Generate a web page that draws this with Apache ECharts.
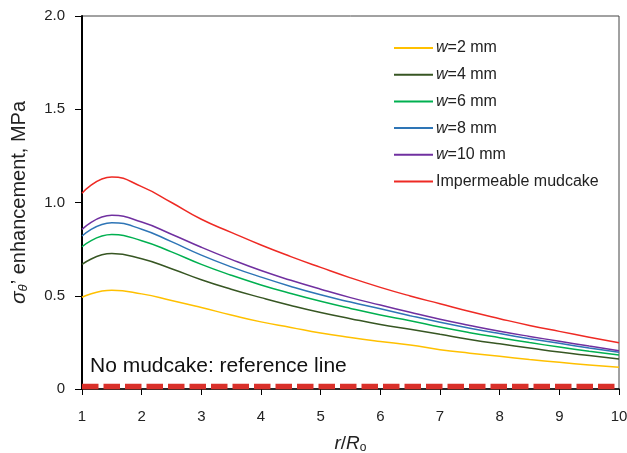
<!DOCTYPE html>
<html><head><meta charset="utf-8">
<script src="https://cdn.jsdelivr.net/npm/echarts@6/dist/echarts.min.js"></script>
<style>html,body{margin:0;padding:0;background:#fff}#c{width:627px;height:453px}</style>
</head><body><div id="c"></div>
<script>
var xs  = [1, 1.5, 2, 2.5, 3, 3.5, 4, 4.5, 5, 5.5, 6, 6.5, 7, 7.5, 8, 8.5, 9, 9.5, 10];
var seriesNames = ['w=2 mm', 'w=4 mm', 'w=6 mm', 'w=8 mm', 'w=10 mm', 'Impermeable mudcake'];
var colors = ['#FFC000', '#375623', '#00B050', '#2E75B6', '#7030A0', '#EE2A24'];
var w2  = [0.492, 0.529, 0.510, 0.475, 0.437, 0.397, 0.360, 0.330, 0.300, 0.276, 0.255, 0.236, 0.211, 0.192, 0.175, 0.158, 0.143, 0.129, 0.116];
var w4  = [0.668, 0.726, 0.698, 0.645, 0.586, 0.535, 0.490, 0.448, 0.410, 0.377, 0.346, 0.320, 0.293, 0.266, 0.242, 0.220, 0.198, 0.179, 0.161];
var w6  = [0.763, 0.828, 0.795, 0.735, 0.668, 0.610, 0.558, 0.512, 0.470, 0.432, 0.397, 0.366, 0.332, 0.302, 0.275, 0.249, 0.225, 0.203, 0.182];
var w8  = [0.820, 0.892, 0.857, 0.790, 0.718, 0.655, 0.600, 0.550, 0.505, 0.466, 0.430, 0.393, 0.358, 0.326, 0.297, 0.270, 0.245, 0.220, 0.197];
var w10 = [0.856, 0.931, 0.895, 0.830, 0.760, 0.695, 0.635, 0.583, 0.535, 0.490, 0.450, 0.411, 0.374, 0.341, 0.310, 0.282, 0.256, 0.230, 0.205];
var imp = [1.050, 1.137, 1.085, 1.000, 0.910, 0.840, 0.772, 0.710, 0.652, 0.596, 0.545, 0.499, 0.457, 0.415, 0.377, 0.341, 0.309, 0.278, 0.248];
var refX = [1, 10];
var refY = [0.013, 0.013];
var xTicks = [1, 2, 3, 4, 5, 6, 7, 8, 9, 10];
var yTicks = ['0', '0.5', '1.0', '1.5', '2.0'];
var allValues = [w2, w4, w6, w8, w10, imp];

var FONT = 'Liberation Sans, Arial, sans-serif';
var chart = echarts.init(document.getElementById('c'));
var series = allValues.map(function (vals, i) {
  return {
    name: seriesNames[i], type: 'line', smooth: 0.5, symbol: 'none',
    data: xs.map(function (x, j) { return [x, vals[j]]; }),
    lineStyle: { color: colors[i], width: 1.5 }, itemStyle: { color: colors[i] }, z: 3
  };
});
series.push({
  name: 'ref', type: 'line', symbol: 'none', silent: true,
  data: refX.map(function (x, j) { return [x, refY[j]]; }),
  lineStyle: { color: '#D9302A', width: 5.5, type: [16.5, 5], cap: 'butt' }, z: 2
});
chart.setOption({
  animation: false,
  textStyle: { fontFamily: FONT },
  grid: { left: 82, right: 8, top: 16, bottom: 64, show: true, borderColor: '#444', borderWidth: 1,
          containLabel: false, outerBoundsMode: 'none' },
  legend: {
    data: seriesNames, orient: 'vertical', left: 393, top: 40, padding: 0,
    itemWidth: 39, itemHeight: 14, itemGap: 10.7,
    itemStyle: { opacity: 0 },
    formatter: function (n) {
      return n.charAt(0) === 'w' ? '{i|w}{t|' + n.slice(1) + '}' : '{t|' + n + '}';
    },
    textStyle: {
      fontFamily: FONT, fontSize: 16, lineHeight: 16, color: '#222', padding: [0, 0, 0, -2],
      rich: {
        i: { fontFamily: FONT, fontSize: 16, lineHeight: 16, fontStyle: 'italic', color: '#222' },
        t: { fontFamily: FONT, fontSize: 16, lineHeight: 16, color: '#222' }
      }
    }
  },
  xAxis: {
    type: 'value', min: 1, max: 10, interval: 1,
    name: '{i|r}{t|/}{i|R}{s|o}', nameLocation: 'middle', nameGap: 45,
    nameTextStyle: {
      rich: {
        i: { fontFamily: FONT, fontSize: 19, fontStyle: 'italic', color: '#222' },
        t: { fontFamily: FONT, fontSize: 19, color: '#222' },
        s: { fontFamily: FONT, fontSize: 12, color: '#222', verticalAlign: 'bottom', padding: [8, 0, 0, 0] }
      }
    },
    axisLine: { lineStyle: { color: '#000', width: 1.5 } },
    axisTick: { inside: false, length: 6, lineStyle: { color: '#000' } },
    axisLabel: {
      fontSize: 15, color: '#222', margin: 20, fontFamily: FONT,
      formatter: function (v) { return String(xTicks[xTicks.indexOf(v)]); }
    },
    splitLine: { show: false }
  },
  yAxis: {
    type: 'value', min: 0, max: 2, interval: 0.5,
    name: '{s|σ}{b|θ}{t|\u2019 enhancement, MPa}', nameLocation: 'middle', nameGap: 52, nameRotate: 90,
    nameTextStyle: {
      rich: {
        s: { fontFamily: FONT, fontSize: 21, fontStyle: 'italic', color: '#222' },
        b: { fontFamily: FONT, fontSize: 13, fontStyle: 'italic', color: '#222', verticalAlign: 'bottom', padding: [9, 0, 0, 0] },
        t: { fontFamily: FONT, fontSize: 20, color: '#222' }
      }
    },
    axisLine: { show: true, lineStyle: { color: '#000', width: 2 } },
    axisTick: { show: true, inside: false, length: 7, lineStyle: { color: '#000' } },
    axisLabel: {
      fontSize: 15, color: '#222', margin: 17, fontFamily: FONT,
      formatter: function (v) { return yTicks[Math.round(v / 0.5)]; }
    },
    splitLine: { show: false }
  },
  graphic: [{
    type: 'text', left: 90, top: 356,
    style: { text: 'No mudcake: reference line', fontFamily: FONT, fontSize: 21, fill: '#111' }
  }],
  series: series
});
</script>
</body></html>
